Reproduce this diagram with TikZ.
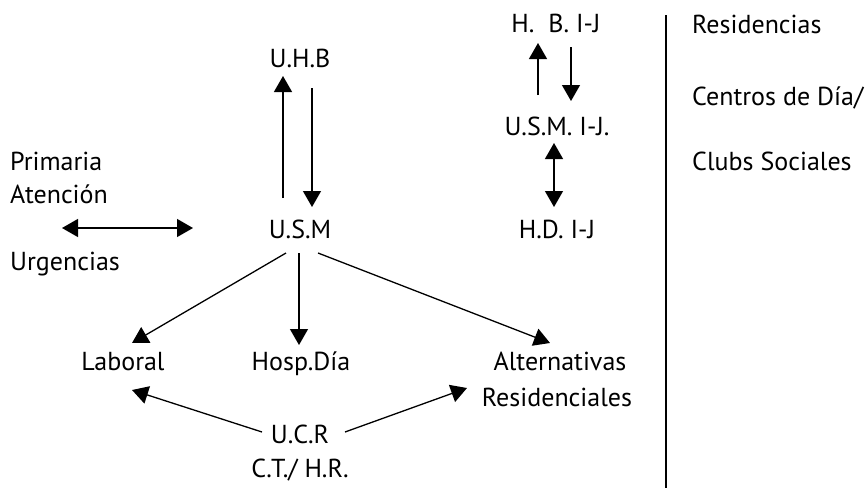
\documentclass[tikz,border=0pt]{standalone}
\usepackage{fontspec}
\setmainfont{PT Sans}
\usetikzlibrary{arrows.meta,calc}
\begin{document}
\begin{tikzpicture}[x=1pt,y=-1pt,
  lbl/.style={inner sep=0pt,anchor=base,font=\fontsize{26}{32}\selectfont},
  lbll/.style={lbl,anchor=base west},
  arr/.style={line width=1.3pt,-{Triangle[length=16pt,width=18pt]}},
  darr/.style={line width=1.3pt,{Triangle[length=16pt,width=18pt]}-{Triangle[length=16pt,width=18pt]}},
  sep/.style={line width=2.2pt}]
\useasboundingbox (0,0) rectangle (867,491);
% nodes
\node[lbl] (uhb) at (300,67) {U.H.B};
\node[lbl] (usm) at (300,238) {U.S.M};
\node[lbl] (hbij) at (556,32) {H.\ \ B.\ I-J};
\node[lbl] (usmij) at (557,135) {U.S.M.\ I-J.};
\node[lbl] (hdij) at (557,238) {H.D.\ I-J};
\node[lbll] (res) at (692,33) {Residencias};
\node[lbll] (cen) at (692,105) {Centros de Día/};
\node[lbll] (clubs) at (692,170) {Clubs Sociales};
\node[lbll] (prim) at (10,170) {Primaria};
\node[lbll] (aten) at (10,203) {Atención};
\node[lbll] (urg) at (10,270) {Urgencias};
\node[lbl] (lab) at (123,370) {Laboral};
\node[lbl] (hosp) at (301,370) {Hosp.Día};
\node[lbl] (alt) at (560,370) {Alternativas};
\node[lbl] (alt2) at (557,406) {Residenciales};
\node[lbl] (ucr) at (300,443) {U.C.R};
\node[lbl] (ct) at (300,477) {C.T./ H.R.};
\coordinate (dl) at (62,228);
\coordinate (dr) at (193,228);
\coordinate (septop) at (666,15);
\coordinate (sepbot) at (666,488);
% connectors
\draw[arr] ($(usm.base)+(-17,-40)$) -- ($(uhb.base)+(-17,9)$);
\draw[arr] ($(uhb.base)+(12,21)$) -- ($(usm.base)+(12,-31)$);
\draw[darr] (dl) -- (dr);
\draw[arr] ($(usmij.base)+(-19,-40)$) -- ($(hbij.base)+(-18,11)$);
\draw[arr] ($(hbij.base)+(15,15)$) -- ($(usmij.base)+(14,-34)$);
\draw[darr] ($(usmij.base)+(-3,8)$) -- ($(hdij.base)+(-3,-31)$);
\draw[arr] ($(usm.base)+(-14,15)$) -- ($(lab.base)+(9,-27)$);
\draw[arr] ($(usm.base)+(-1,15)$) -- ($(hosp.base)+(-2,-25)$);
\draw[arr] ($(usm.base)+(18,15)$) -- ($(alt.base)+(-10,-27)$);
\draw[arr] ($(ucr.base)+(-38,-11)$) -- ($(lab.base)+(9,20)$);
\draw[arr] ($(ucr.base)+(45,-11)$) -- ($(alt.base)+(-93,18)$);
\draw[sep] (septop) -- (sepbot);
\end{tikzpicture}
\end{document}
